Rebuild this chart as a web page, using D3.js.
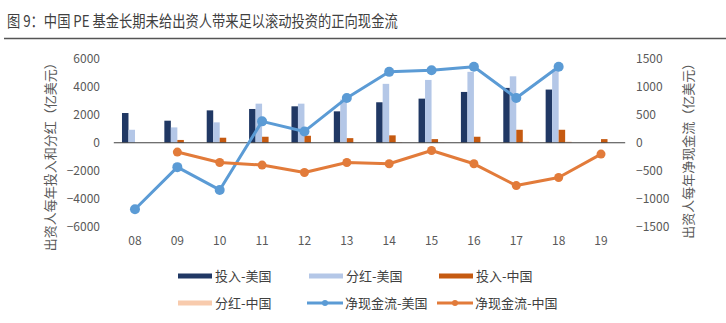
<!DOCTYPE html>
<html>
<head>
<meta charset="utf-8">
<script src="https://cdn.jsdelivr.net/npm/d3@7/dist/d3.min.js"></script>
<style>
  html, body { margin: 0; padding: 0; background: #fff; }
  svg { display: block; }
</style>
</head>
<body>
<svg id="chart" width="726" height="323"></svg>
<script>
// Years (two-digit labels)
const years = ["08","09","10","11","12","13","14","15","16","17","18","19"];

// Annual contributions and distributions, 100M USD (left axis)
const investUS   = [2130, 1580, 2320, 2420, 2610, 2250, 2900, 3160, 3640, 3930, 3810, null];
const dividendUS = [930, 1100, 1460, 2800, 2800, 3100, 4220, 4500, 5080, 4760, 5250, null];
const investCN   = [0, 200, 360, 430, 500, 330, 530, 260, 430, 930, 930, 260];
const dividendCN = [0, 0, 0, 0, 0, 0, 50, 30, 0, 80, 80, 0];

// Annual net cash flow to LPs, 100M USD (right axis)
const netUS = [-1190, -437, -845, 383, 203, 803, 1270, 1300, 1360, 803, 1360, null];
const netCN = [null, -167, -353, -400, -533, -353, -377, -138, -377, -767, -623, -203];

const leftTicks  = [-6000, -4000, -2000, 0, 2000, 4000, 6000];
const rightTicks = [-1500, -1000, -500, 0, 500, 1000, 1500];

const barSeries = [
  { name: "投入-美国", values: investUS,   color: "#203864" },
  { name: "分红-美国", values: dividendUS, color: "#b4c7e7" },
  { name: "投入-中国", values: investCN,   color: "#c55a11" },
  { name: "分红-中国", values: dividendCN, color: "#f8cbad" }
];
const lineSeries = [
  { name: "净现金流-美国", values: netUS, color: "#5b9bd5", r: 5 },
  { name: "净现金流-中国", values: netCN, color: "#e27b3a", r: 4.5 }
];

const font = "'Noto Sans CJK SC', 'Noto Sans', sans-serif";
const svg = d3.select("#chart");

// Title (set slightly condensed) and rule
svg.append("text")
  .attr("transform", "translate(7,27) scale(0.83,1)")
  .attr("font-family", font).attr("font-size", 16)
  .attr("fill", "#404040")
  .text("图 9：中国 PE 基金长期未给出资人带来足以滚动投资的正向现金流");
svg.append("line")
  .attr("x1", 4).attr("x2", 726).attr("y1", 38.5).attr("y2", 38.5)
  .attr("stroke", "#555").attr("stroke-width", 1.5);

// Scales
const plotLeft = 113.8, plotRight = 622.2;
const yTop = 59, yBottom = 226.5;
const x = d3.scaleBand().domain(years).range([plotLeft, plotRight]).padding(0);
const yL = d3.scaleLinear().domain([-6000, 6000]).range([yBottom, yTop]);
const yR = d3.scaleLinear().domain([-1500, 1500]).range([yBottom, yTop]);
const groupW = 26;
const xs = d3.scaleBand().domain(barSeries.map(d => d.name)).range([-groupW / 2, groupW / 2]);

// Left axis labels
const axisL = d3.axisLeft(yL).tickValues(leftTicks).tickSize(0).tickPadding(0).tickFormat(d3.format("d"));
const gL = svg.append("g").attr("transform", `translate(100,0)`).call(axisL);
gL.select(".domain").remove();
gL.selectAll("text").attr("font-family", font).attr("font-size", 12).attr("fill", "#595959");

// Right axis labels
const axisR = d3.axisRight(yR).tickValues(rightTicks).tickSize(0).tickPadding(0).tickFormat(d3.format("d"));
const gR = svg.append("g").attr("transform", `translate(636,0)`).call(axisR);
gR.select(".domain").remove();
gR.selectAll("text").attr("font-family", font).attr("font-size", 12).attr("fill", "#595959");

// Category labels
const axisX = d3.axisBottom(x).tickSize(0).tickPadding(0);
const gX = svg.append("g").attr("transform", `translate(0,236)`).call(axisX);
gX.select(".domain").remove();
gX.selectAll("text").attr("font-family", font).attr("font-size", 12).attr("fill", "#595959").attr("dy", "0.75em");

// Axis titles
svg.append("text")
  .attr("transform", `translate(55,${(yTop + yBottom) / 2 + 11}) rotate(-90)`)
  .attr("text-anchor", "middle")
  .attr("font-family", font).attr("font-size", 13).attr("fill", "#595959")
  .text("出资人每年投入和分红（亿美元）");
svg.append("text")
  .attr("transform", `translate(693,${(yTop + yBottom) / 2 + 5}) rotate(-90)`)
  .attr("text-anchor", "middle")
  .attr("font-family", font).attr("font-size", 13).attr("fill", "#595959")
  .text("出资人每年净现金流（亿美元）");

// Bars
barSeries.forEach(s => {
  svg.append("g").selectAll("rect")
    .data(years.map((yr, i) => ({ yr, v: s.values[i] })).filter(d => d.v != null && d.v > 0))
    .join("rect")
    .attr("x", d => x(d.yr) + x.bandwidth() / 2 + xs(s.name))
    .attr("width", xs.bandwidth())
    .attr("y", d => yL(d.v))
    .attr("height", d => yL(0) - yL(d.v))
    .attr("fill", s.color);
});

// Zero line
svg.append("line")
  .attr("x1", plotLeft).attr("x2", plotRight + 3)
  .attr("y1", yL(0)).attr("y2", yL(0))
  .attr("stroke", "#404040").attr("stroke-width", 1);

// Lines on right axis
lineSeries.forEach(s => {
  const pts = years.map((yr, i) => ({ yr, v: s.values[i] })).filter(d => d.v != null);
  const line = d3.line().x(d => x(d.yr) + x.bandwidth() / 2).y(d => yR(d.v));
  svg.append("path").datum(pts)
    .attr("d", line).attr("fill", "none")
    .attr("stroke", s.color).attr("stroke-width", 3).attr("stroke-linejoin", "round");
  svg.append("g").selectAll("circle").data(pts).join("circle")
    .attr("cx", d => x(d.yr) + x.bandwidth() / 2)
    .attr("cy", d => yR(d.v))
    .attr("r", s.r).attr("fill", s.color);
});

// Legend
const legendItems = [
  { s: barSeries[0], type: "bar", x: 178, y: 276 },
  { s: barSeries[1], type: "bar", x: 309, y: 276 },
  { s: barSeries[2], type: "bar", x: 439, y: 276 },
  { s: barSeries[3], type: "bar", x: 178, y: 303 },
  { s: lineSeries[0], type: "line", x: 307, y: 303 },
  { s: lineSeries[1], type: "line", x: 437, y: 303 }
];
const lg = svg.append("g");
legendItems.forEach(it => {
  const g = lg.append("g").attr("transform", `translate(${it.x},${it.y})`);
  if (it.type === "bar") {
    g.append("rect").attr("x", 0).attr("y", -2.5).attr("width", 34).attr("height", 5).attr("fill", it.s.color);
  } else {
    g.append("line").attr("x1", 0).attr("x2", 36).attr("y1", 0).attr("y2", 0)
      .attr("stroke", it.s.color).attr("stroke-width", 3);
    g.append("circle").attr("cx", 18).attr("cy", 0).attr("r", 3).attr("fill", it.s.color);
  }
  g.append("text")
    .attr("x", it.type === "bar" ? 37 : 38).attr("y", 0).attr("dy", "0.35em")
    .attr("font-family", font).attr("font-size", 13).attr("fill", "#404040")
    .text(it.s.name);
});
</script>
</body>
</html>
